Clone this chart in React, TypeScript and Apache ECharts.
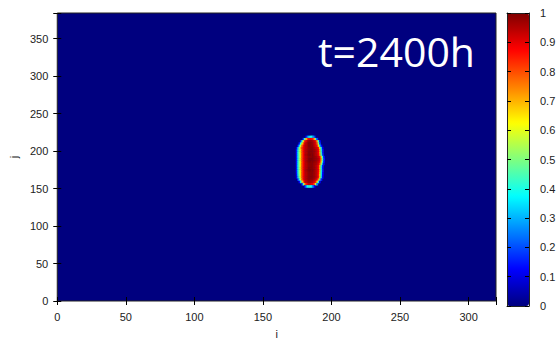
import React, { useEffect, useRef } from "react";
import * as echarts from "echarts";

// Grid extent (cells)
const iMax = 320;
const jMax = 384;
const xTicks = [0, 50, 100, 150, 200, 250, 300];
const yTicks = [0, 50, 100, 150, 200, 250, 300, 350];
const cbTicks = [0, 0.1, 0.2, 0.3, 0.4, 0.5, 0.6, 0.7, 0.8, 0.9, 1];
const titleText = "t=2400h";

// Jet colour scale
const jetColors = ["#00007f", "#0000ff", "#007fff", "#00ffff", "#7fff7f", "#ffff00", "#ff7f00", "#ff0000", "#7f0000"];

// Non-zero part of the field (everything else is 0): each row is a j-band of 3 cells
const rowJ = [219, 216, 213, 210, 207, 204, 201, 198, 195, 192, 189, 186, 183, 180, 177, 174, 171, 168, 165, 162, 159, 156, 153];
const rowIStart = [181, 179, 177, 176, 175, 174, 174, 174, 174, 174, 174, 174, 174, 174, 174, 174, 174, 174, 174, 175, 176, 178, 180];
const rowValues: number[][] = [
  [0.12, 0.25, 0.35, 0.4, 0.38, 0.3, 0.18],
  [0.2, 0.45, 0.68, 0.82, 0.88, 0.9, 0.88, 0.84, 0.7, 0.45, 0.18],
  [0.15, 0.4, 0.66, 0.84, 0.9, 0.95, 0.97, 0.98, 0.97, 0.95, 0.92, 0.88, 0.7, 0.4, 0.12],
  [0.15, 0.38, 0.62, 0.8, 0.9, 0.94, 0.97, 0.99, 0.99, 0.98, 0.96, 0.93, 0.9, 0.78, 0.5, 0.18],
  [0.12, 0.35, 0.58, 0.76, 0.88, 0.92, 0.95, 0.97, 0.99, 0.99, 0.98, 0.97, 0.94, 0.91, 0.86, 0.66, 0.38, 0.12],
  [0.1, 0.3, 0.52, 0.7, 0.82, 0.89, 0.92, 0.95, 0.97, 0.98, 0.99, 0.99, 0.98, 0.96, 0.94, 0.91, 0.86, 0.64, 0.35, 0.1],
  [0.15, 0.35, 0.52, 0.66, 0.8, 0.88, 0.92, 0.95, 0.97, 0.98, 0.99, 0.99, 0.98, 0.97, 0.95, 0.92, 0.88, 0.7, 0.4, 0.15],
  [0.15, 0.36, 0.53, 0.67, 0.8, 0.88, 0.92, 0.95, 0.97, 0.99, 0.99, 0.99, 0.98, 0.97, 0.95, 0.92, 0.88, 0.7, 0.42, 0.15],
  [0.15, 0.35, 0.52, 0.66, 0.8, 0.88, 0.93, 0.96, 0.98, 0.99, 1, 0.99, 0.99, 0.97, 0.95, 0.93, 0.89, 0.74, 0.45, 0.18],
  [0.15, 0.35, 0.52, 0.66, 0.8, 0.88, 0.92, 0.95, 0.97, 0.98, 0.99, 0.99, 0.99, 0.98, 0.97, 0.95, 0.93, 0.88, 0.68, 0.4, 0.12],
  [0.15, 0.36, 0.53, 0.67, 0.8, 0.88, 0.92, 0.95, 0.97, 0.99, 1, 1, 0.99, 0.98, 0.97, 0.96, 0.94, 0.9, 0.72, 0.45, 0.15],
  [0.15, 0.35, 0.52, 0.66, 0.8, 0.88, 0.92, 0.96, 0.98, 0.99, 1, 0.99, 0.99, 0.98, 0.97, 0.95, 0.93, 0.88, 0.68, 0.42, 0.12],
  [0.15, 0.35, 0.52, 0.66, 0.8, 0.88, 0.92, 0.95, 0.97, 0.98, 0.99, 0.99, 0.98, 0.97, 0.96, 0.94, 0.91, 0.8, 0.55, 0.28, 0.08],
  [0.15, 0.35, 0.52, 0.66, 0.8, 0.88, 0.92, 0.95, 0.97, 0.98, 0.99, 0.99, 0.98, 0.97, 0.95, 0.92, 0.88, 0.7, 0.4, 0.15],
  [0.15, 0.36, 0.53, 0.67, 0.8, 0.88, 0.92, 0.95, 0.97, 0.99, 0.99, 0.99, 0.98, 0.97, 0.95, 0.92, 0.87, 0.68, 0.38, 0.14],
  [0.15, 0.35, 0.52, 0.66, 0.8, 0.88, 0.93, 0.96, 0.98, 0.99, 1, 0.99, 0.99, 0.97, 0.95, 0.92, 0.88, 0.7, 0.4, 0.15],
  [0.14, 0.34, 0.52, 0.66, 0.8, 0.88, 0.92, 0.95, 0.97, 0.98, 0.99, 0.99, 0.98, 0.97, 0.95, 0.92, 0.87, 0.68, 0.38, 0.13],
  [0.12, 0.32, 0.5, 0.66, 0.8, 0.88, 0.92, 0.95, 0.97, 0.98, 0.99, 0.99, 0.98, 0.97, 0.95, 0.92, 0.86, 0.66, 0.36, 0.12],
  [0.1, 0.3, 0.5, 0.66, 0.8, 0.88, 0.92, 0.95, 0.97, 0.98, 0.99, 0.99, 0.98, 0.97, 0.95, 0.92, 0.86, 0.65, 0.35, 0.1],
  [0.15, 0.4, 0.6, 0.78, 0.88, 0.92, 0.95, 0.97, 0.98, 0.98, 0.98, 0.97, 0.95, 0.92, 0.87, 0.72, 0.45, 0.15],
  [0.12, 0.35, 0.6, 0.8, 0.9, 0.94, 0.96, 0.97, 0.97, 0.96, 0.94, 0.91, 0.85, 0.65, 0.35, 0.1],
  [0.15, 0.45, 0.7, 0.85, 0.9, 0.92, 0.92, 0.9, 0.87, 0.78, 0.55, 0.25],
  [0.12, 0.28, 0.38, 0.42, 0.42, 0.36, 0.26, 0.12],
];

const FONT = "'Liberation Sans', Arial, sans-serif";

export default function App() {
  const ref = useRef<HTMLDivElement>(null);
  useEffect(() => {
    if (!ref.current) return;
    const chart = echarts.init(ref.current, undefined, { renderer: "svg" });
    const cells: number[][] = [];
    rowJ.forEach((j, r) => {
      rowValues[r].forEach((v, k) => cells.push([rowIStart[r] + k, j, v]));
    });
    const axisLabelStyle = { color: "#222", fontFamily: FONT, fontSize: 11 };
    const nameStyle = { color: "#222", fontFamily: FONT, fontSize: 11 };
    const tickStyle = { show: true, inside: true, length: 4, lineStyle: { color: "#000", width: 1 } };
    const frameLine = { show: true, onZero: false, lineStyle: { color: "#222", width: 1 } };
    const option: any = {
      animation: false,
      backgroundColor: "#ffffff",
      grid: [
        { left: 55, top: 13, width: 441, height: 293, show: true, backgroundColor: "#00007f", borderColor: "#222", borderWidth: 1 },
        { left: 507, top: 13, width: 22, height: 293, show: false },
      ],
      xAxis: [
        {
          gridIndex: 0, type: "value", min: 0, max: iMax, interval: 50, position: "bottom",
          name: "i", nameLocation: "middle", nameGap: 27, nameTextStyle: nameStyle,
          axisLine: { show: false }, splitLine: { show: false }, axisTick: tickStyle,
          axisLabel: { ...axisLabelStyle, margin: 10, formatter: (v: number) => (xTicks.includes(v) ? String(v) : "") },
        },
        {
          gridIndex: 0, type: "value", min: 0, max: iMax, interval: 50, position: "top",
          axisLine: { show: false }, splitLine: { show: false }, axisTick: tickStyle, axisLabel: { show: false },
        },
        { gridIndex: 1, type: "value", min: 0, max: 1, position: "bottom", z: 10, axisLine: frameLine, axisTick: { show: false }, axisLabel: { show: false }, splitLine: { show: false } },
        { gridIndex: 1, type: "value", min: 0, max: 1, position: "top", z: 10, axisLine: frameLine, axisTick: { show: false }, axisLabel: { show: false }, splitLine: { show: false } },
      ],
      yAxis: [
        {
          gridIndex: 0, type: "value", min: 0, max: jMax, interval: 50, position: "left",
          name: "j", nameLocation: "middle", nameGap: 37, nameTextStyle: nameStyle,
          axisLine: { show: false }, splitLine: { show: false }, axisTick: tickStyle,
          axisLabel: { ...axisLabelStyle, margin: 9, formatter: (v: number) => (yTicks.includes(v) ? String(v) : "") },
        },
        {
          gridIndex: 0, type: "value", min: 0, max: jMax, interval: 50, position: "right",
          axisLine: { show: false }, splitLine: { show: false }, axisTick: tickStyle, axisLabel: { show: false },
        },
        {
          gridIndex: 1, type: "value", min: 0, max: 1, interval: 0.1, position: "right", z: 10,
          axisLine: frameLine, splitLine: { show: false }, axisTick: tickStyle,
          axisLabel: {
            ...axisLabelStyle, margin: 11,
            formatter: (v: number) => {
              const t = cbTicks.find((c) => Math.abs(c - v) < 1e-6);
              return t === undefined ? "" : String(t);
            },
          },
        },
        {
          gridIndex: 1, type: "value", min: 0, max: 1, interval: 0.1, position: "left", z: 10,
          axisLine: frameLine, splitLine: { show: false }, axisTick: tickStyle, axisLabel: { show: false },
        },
      ],
      visualMap: {
        type: "continuous", min: 0, max: 1, dimension: 2, seriesIndex: 0,
        inRange: { color: jetColors }, calculable: false, hoverLink: false,
        orient: "vertical", left: 507, top: 13, itemWidth: 22, itemHeight: 293, padding: 0,
        text: null, textStyle: { color: "transparent" },
      },
      series: [
        {
          type: "custom", xAxisIndex: 0, yAxisIndex: 0, data: cells, clip: true,
          renderItem: (params: any, api: any) => {
            const i = api.value(0);
            const j = api.value(1);
            const p0 = api.coord([i, j + 1.5]);
            const p1 = api.coord([i + 1, j - 1.5]);
            return {
              type: "rect",
              shape: { x: p0[0], y: p0[1], width: p1[0] - p0[0] + 0.4, height: p1[1] - p0[1] + 0.4 },
              style: { fill: api.visual("color") },
            };
          },
        },
      ],
      graphic: [
        {
          type: "text", x: 318, y: 51, z: 20,
          style: { text: titleText, fill: "#ffffff", font: "41px 'Open Sans', sans-serif", textVerticalAlign: "middle", verticalAlign: "middle" },
        },
      ],
    };
    chart.setOption(option);
    return () => chart.dispose();
  }, []);
  return <div ref={ref} style={{ position: "fixed", left: 0, top: 0, width: 560, height: 344 }} />;
}
